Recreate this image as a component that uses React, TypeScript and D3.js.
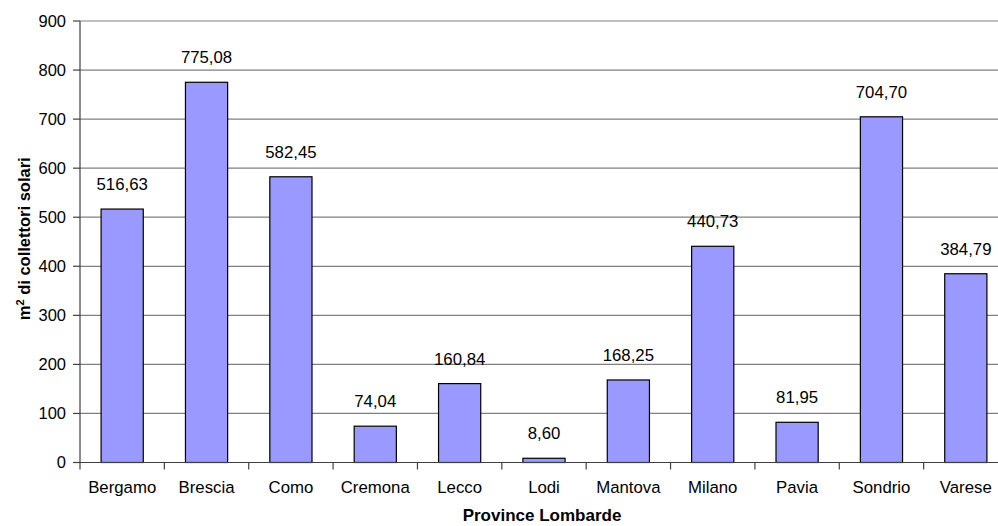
import React from "react";
import * as d3 from "d3";

const categories = ["Bergamo", "Brescia", "Como", "Cremona", "Lecco", "Lodi", "Mantova", "Milano", "Pavia", "Sondrio", "Varese"];
const values = [516.63, 775.08, 582.45, 74.04, 160.84, 8.6, 168.25, 440.73, 81.95, 704.7, 384.79];
const yTicks = [0, 100, 200, 300, 400, 500, 600, 700, 800, 900];
const xTitle = "Province Lombarde";

const W = 998;
const H = 526;
const left = 80;
const right = 1008;
const top = 21;
const bottom = 462.5;
const font = "'Liberation Sans', Arial, sans-serif";

export default function App() {
  const x = d3.scaleBand<string>().domain(categories).range([left, right]).paddingInner(0.5).paddingOuter(0.25);
  const band = d3.scaleBand<string>().domain(categories).range([left, right]);
  const y = d3.scaleLinear().domain([0, 900]).range([bottom, top]);
  const fmt = (v: number) => v.toFixed(2).replace(".", ",");

  return (
    <svg width={W} height={H} style={{ position: "absolute", left: 0, top: 0, background: "#fff" }} fontFamily={font}>
      {yTicks.map((t) => (
        <g key={t}>
          {t > 0 && <line x1={left} x2={right} y1={y(t)} y2={y(t)} stroke="#808080" strokeWidth={1.2} />}
          <line x1={left - 7} x2={left} y1={y(t)} y2={y(t)} stroke="#404040" strokeWidth={1.2} />
          <text x={left - 14} y={y(t)} dy="0.36em" textAnchor="end" fontSize={16.5} fill="#000">{t}</text>
        </g>
      ))}
      {categories.map((c, i) => (
        <g key={c}>
          <rect x={x(c)} y={y(values[i])} width={x.bandwidth()} height={bottom - y(values[i])} fill="#9999FF" stroke="#000" strokeWidth={1.2} />
          <text x={x(c)! + x.bandwidth() / 2} y={y(values[i]) - 19} textAnchor="middle" fontSize={16.8} fill="#000">{fmt(values[i])}</text>
          <text x={band(c)! + band.bandwidth() / 2} y={493} textAnchor="middle" fontSize={16.8} fill="#000">{c}</text>
          <line x1={band(c)! + band.bandwidth()} x2={band(c)! + band.bandwidth()} y1={bottom} y2={bottom + 7} stroke="#404040" strokeWidth={1.2} />
        </g>
      ))}
      <line x1={left} x2={left} y1={top} y2={bottom + 7} stroke="#404040" strokeWidth={1.2} />
      <line x1={left} x2={right} y1={bottom} y2={bottom} stroke="#404040" strokeWidth={1.2} />
      <text x={542} y={521} textAnchor="middle" fontSize={17} fontWeight="bold" fill="#000">{xTitle}</text>
      <text transform={`translate(30, ${(top + bottom) / 2 - 3}) rotate(-90)`} textAnchor="middle" fontSize={16.5} fontWeight="bold" fill="#000">
        m<tspan dy="-6" fontSize={11}>2</tspan><tspan dy="6"> di collettori solari</tspan>
      </text>
    </svg>
  );
}
